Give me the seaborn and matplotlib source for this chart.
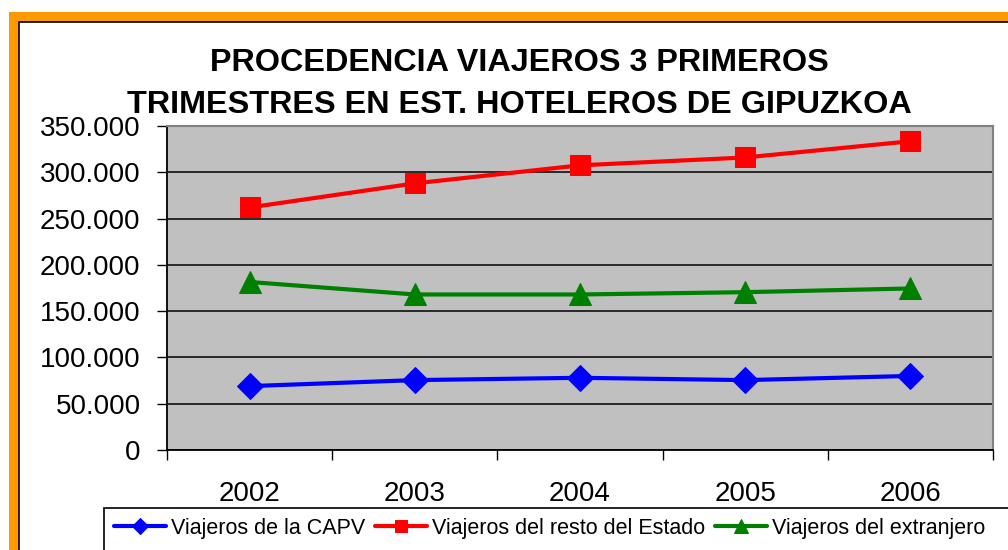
import matplotlib
matplotlib.use("Agg")
import matplotlib.pyplot as plt
import matplotlib.ticker as mticker
from matplotlib.patches import Rectangle
import seaborn as sns
import pandas as pd

# Viajeros (3 primeros trimestres)
years = [2002, 2003, 2004, 2005, 2006]
capv = [69000, 75500, 78000, 75500, 80000]
resto_estado = [262000, 288000, 307500, 316000, 333500]
extranjero = [181500, 168000, 168000, 170500, 174500]

series_names = ["Viajeros de la CAPV", "Viajeros del resto del Estado", "Viajeros del extranjero"]
series_colors = ["#0000FF", "#FF0000", "#008000"]
series_markers = ["D", "s", "^"]
series_msize = [13, 14, 16]

title = "PROCEDENCIA VIAJEROS 3 PRIMEROS\nTRIMESTRES EN EST. HOTELEROS DE GIPUZKOA"

sns.set_theme(style="white")
plt.rcParams["font.family"] = ["Liberation Sans", "DejaVu Sans"]
plt.rcParams["text.color"] = "black"
plt.rcParams["xtick.color"] = "black"
plt.rcParams["ytick.color"] = "black"

W, H = 1008, 550
fig = plt.figure(figsize=(W / 100, H / 100), dpi=100)

# orange outer frame + thin black inner line (cut off at right and bottom)
fig.patches.append(Rectangle((9 / W, -0.2), 1.3, 1 - 12 / H + 0.2, transform=fig.transFigure,
                             facecolor="#FF9900", edgecolor="none", zorder=-3))
fig.patches.append(Rectangle((19 / W, -0.2), 1.3, 1 - 22 / H + 0.2, transform=fig.transFigure,
                             facecolor="white", edgecolor="black", linewidth=1.2, zorder=-2))
# legend box, also running off the image
fig.patches.append(Rectangle((104 / W, -0.2), 1.3, 1 - 508 / H + 0.2, transform=fig.transFigure,
                             facecolor="white", edgecolor="black", linewidth=1.2, zorder=-1))

ax = fig.add_axes([167 / W, 100 / H, 826 / W, 324 / H])
ax.set_facecolor("#C0C0C0")

df = pd.DataFrame({"year": years, series_names[0]: capv,
                   series_names[1]: resto_estado, series_names[2]: extranjero})
for name, col, mk, ms in zip(series_names, series_colors, series_markers, series_msize):
    sns.lineplot(data=df, x="year", y=name, ax=ax, color=col, marker=mk, markersize=ms,
                 markeredgecolor=col, linewidth=3, label=name, zorder=3)

ax.set_xlim(2001.5, 2006.5)
ax.set_ylim(0, 350000)
ax.set_xlabel("")
ax.set_ylabel("")

ax.yaxis.set_major_locator(mticker.MultipleLocator(50000))
ax.yaxis.set_major_formatter(mticker.FuncFormatter(lambda v, p: f"{int(v):,}".replace(",", ".")))
ax.yaxis.grid(True, color="black", linewidth=1.1)
ax.set_axisbelow(True)

# tick marks between categories, labels centred on them
ax.xaxis.set_major_locator(mticker.FixedLocator([y - 0.5 for y in years] + [years[-1] + 0.5]))
ax.xaxis.set_major_formatter(mticker.NullFormatter())
ax.xaxis.set_minor_locator(mticker.FixedLocator(years))
ax.xaxis.set_minor_formatter(mticker.FixedFormatter([str(y) for y in years]))
ax.tick_params(axis="x", which="major", direction="out", length=7, width=1, color="black", bottom=True)
ax.tick_params(axis="x", which="minor", length=0, pad=22, labelsize=20, bottom=True)
ax.tick_params(axis="y", direction="out", length=7, width=1, color="black", pad=12, labelsize=20, left=True)

for side in ["left", "bottom"]:
    ax.spines[side].set_color("black")
    ax.spines[side].set_linewidth(1.3)
for side in ["top", "right"]:
    ax.spines[side].set_color("#808080")
    ax.spines[side].set_linewidth(1.5)

fig.text(519 / W, 1 - 84 / H, title, ha="center", va="center", fontsize=23.3,
         fontweight="bold", linespacing=1.5)

handles, labels = ax.get_legend_handles_labels()
ax.get_legend().remove()
leg = fig.legend(handles, labels, loc="upper left", bbox_to_anchor=(104 / W, 1 - 508 / H),
                 ncol=3, fontsize=15.5, frameon=False, borderpad=0.45, handlelength=2.45,
                 handletextpad=0.2, columnspacing=0.45, markerscale=0.6, borderaxespad=0)

fig.savefig("out.png", dpi=100)
